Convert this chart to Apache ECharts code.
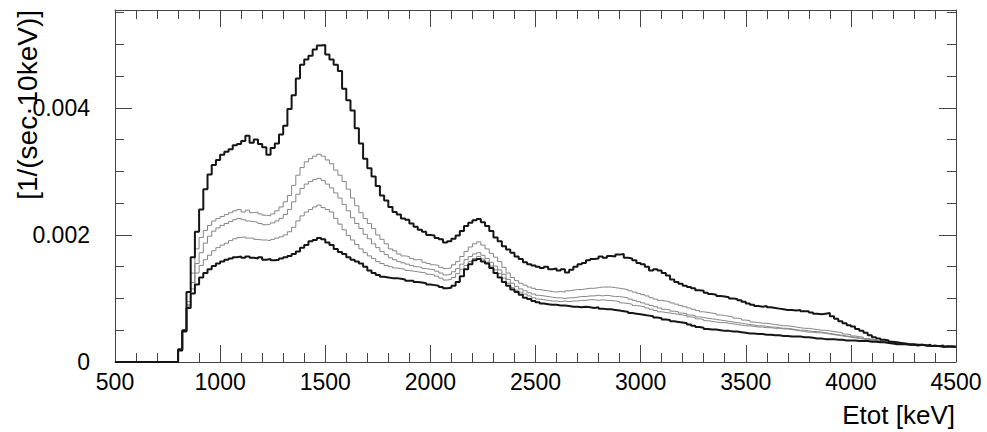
<!DOCTYPE html>
<html><head><meta charset="utf-8">
<script src="https://cdn.jsdelivr.net/npm/echarts@6/dist/echarts.min.js"></script>
<style>html,body{margin:0;padding:0;background:#fff}#c{width:987px;height:432px}</style>
</head><body><div id="c"></div>
<script>
// Histogram bins: 20 keV wide, first non-empty bin starts at 800 keV. Values in units of 1e-5 [1/(sec*10keV)].
const xMin = 500, xMax = 4500, binStart = 800, binWidth = 20;
const yMax = 0.00554;
const unit = 1e-5;
const yTickLabels = ['0', '0.002', '0.004'];
const xTickLabels = ['500', '1000', '1500', '2000', '2500', '3000', '3500', '4000', '4500'];
const xTitle = 'Etot [keV]';
const yTitle = '[1/(sec\u00b710keV)]';

// top thick black curve
const seriesTop = [
 20, 50, 110, 165, 205, 240, 272, 295, 310, 318,
 326, 331, 335, 341, 343, 348, 356, 345, 350, 343,
 338, 326, 337, 344, 358, 372, 398, 420, 446, 468,
 476, 482, 492, 498, 499, 484, 476, 468, 458, 430,
 412, 396, 368, 344, 320, 305, 292, 277, 262, 254,
 244, 236, 232, 226, 224, 218, 213, 208, 205, 200,
 199, 195, 193, 188, 190, 194, 199, 206, 214, 219,
 223, 225, 220, 214, 206, 196, 190, 182, 177, 172,
 166, 162, 157, 154, 152, 150, 148, 150, 146, 147,
 144, 146, 141, 145, 150, 154, 156, 160, 162, 163,
 166, 164, 167, 166, 169, 170, 164, 163, 160, 156,
 154, 150, 144, 146, 144, 140, 136, 130, 126, 123,
 120, 118, 116, 113, 112, 109, 107, 106, 104, 103,
 102, 100, 99, 97, 95, 92, 90, 88, 87, 88,
 86, 85, 84, 83, 82, 82, 81, 82, 80, 80,
 78, 76, 75, 76, 77, 72, 68, 64, 61, 58,
 56, 52, 49, 46, 42, 39, 37, 35, 34, 32,
 31, 30, 29, 28, 28, 27, 27, 26, 27, 25,
 25, 26, 24, 25, 24
];
// upper gray curve
const seriesGray1 = [
 19, 49, 95, 140, 178, 196, 207, 215, 222, 226,
 229, 232, 235, 238, 240, 236, 239, 235, 236, 233,
 231, 230, 233, 238, 244, 252, 262, 278, 294, 306,
 315, 320, 324, 327, 324, 318, 312, 302, 294, 284,
 272, 258, 246, 235, 226, 218, 210, 200, 193, 186,
 178, 175, 170, 167, 166, 163, 161, 161, 157, 155,
 153, 152, 149, 147, 148, 153, 158, 166, 174, 181,
 186, 189, 184, 178, 171, 165, 158, 149, 140, 133,
 128, 124, 121, 118, 116, 114, 113, 112, 111, 110,
 111, 110, 112, 113, 114, 114, 115, 116, 116, 117,
 118, 118, 118, 117, 116, 115, 114, 112, 110, 108,
 106, 104, 101, 99, 97, 96, 95, 93, 91, 89,
 87, 85, 83, 81, 79, 78, 77, 76, 74, 73,
 72, 71, 69, 68, 66, 65, 63, 62, 61, 61,
 60, 59, 58, 57, 57, 56, 55, 54, 53, 53,
 52, 51, 50, 50, 49, 48, 47, 46, 44, 43,
 41, 40, 39, 37, 36, 35, 33, 32, 31, 30,
 29, 29, 28, 28, 27, 27, 26, 26, 26, 25,
 25, 25, 24, 24, 24
];
// middle gray curve
const seriesGray2 = [
 19, 48, 90, 125, 155, 172, 187, 198, 206, 211,
 215, 218, 221, 224, 226, 224, 222, 221, 220, 218,
 216, 217, 219, 222, 226, 232, 240, 252, 264, 273,
 280, 284, 287, 289, 286, 280, 274, 266, 258, 248,
 238, 227, 218, 210, 201, 194, 186, 180, 174, 169,
 164, 161, 158, 156, 154, 152, 150, 149, 147, 146,
 145, 143, 140, 137, 138, 142, 147, 154, 161, 166,
 170, 172, 168, 163, 157, 151, 145, 138, 130, 124,
 119, 115, 112, 109, 107, 105, 104, 103, 102, 101,
 101, 100, 101, 101, 102, 103, 103, 104, 104, 105,
 104, 105, 104, 103, 103, 102, 101, 99, 97, 95,
 93, 91, 89, 87, 85, 83, 82, 80, 79, 77,
 76, 74, 73, 71, 70, 69, 68, 67, 66, 65,
 64, 63, 62, 61, 60, 59, 58, 57, 57, 56,
 55, 55, 54, 53, 53, 52, 51, 50, 50, 49,
 48, 48, 47, 46, 45, 44, 43, 42, 41, 40,
 39, 38, 37, 36, 35, 34, 33, 32, 31, 30,
 29, 28, 28, 27, 27, 26, 26, 26, 25, 25,
 25, 24, 24, 24, 24
];
// lower gray curve
const seriesGray3 = [
 19, 48, 88, 115, 140, 152, 161, 168, 175, 180,
 184, 187, 191, 194, 196, 197, 195, 195, 193, 192,
 192, 191, 193, 195, 197, 200, 205, 212, 222, 230,
 236, 240, 244, 247, 243, 240, 236, 226, 217, 208,
 199, 192, 185, 178, 172, 167, 163, 158, 155, 152,
 150, 148, 147, 146, 144, 143, 142, 141, 140, 138,
 137, 135, 132, 129, 130, 133, 139, 146, 152, 158,
 163, 166, 162, 157, 151, 145, 139, 132, 124, 117,
 113, 110, 107, 104, 101, 99, 98, 97, 96, 96,
 95, 96, 95, 96, 96, 97, 97, 98, 98, 97,
 98, 97, 97, 96, 95, 93, 92, 91, 89, 88,
 87, 85, 83, 81, 79, 78, 77, 76, 75, 74,
 73, 71, 70, 68, 67, 65, 64, 63, 62, 62,
 61, 60, 59, 58, 57, 57, 56, 55, 55, 54,
 54, 53, 53, 52, 52, 51, 50, 49, 48, 47,
 47, 46, 46, 45, 44, 43, 42, 41, 40, 39,
 38, 37, 36, 35, 34, 33, 32, 32, 31, 30,
 29, 28, 28, 27, 27, 26, 26, 26, 25, 25,
 24, 24, 24, 24, 24
];
// bottom thick black curve
const seriesBottom = [
 18, 48, 85, 108, 122, 133, 140, 146, 151, 155,
 158, 161, 163, 165, 166, 164, 166, 164, 163, 165,
 161, 162, 160, 161, 163, 165, 167, 170, 174, 180,
 184, 190, 192, 195, 193, 188, 184, 178, 173, 170,
 165, 161, 158, 155, 150, 144, 140, 137, 134, 133,
 132, 132, 131, 130, 128, 128, 126, 125, 124, 122,
 121, 120, 118, 116, 117, 120, 126, 135, 146, 154,
 160, 162, 158, 155, 148, 140, 133, 126, 120, 114,
 110, 106, 101, 99, 96, 94, 92, 91, 90, 90,
 89, 89, 88, 87, 87, 86, 87, 86, 85, 86,
 84, 83, 83, 82, 81, 80, 79, 77, 76, 75,
 74, 73, 72, 70, 69, 67, 66, 64, 63, 62,
 61, 59, 57, 55, 54, 52, 51, 51, 50, 49,
 49, 48, 48, 47, 46, 45, 45, 44, 44, 43,
 43, 42, 42, 41, 41, 40, 40, 40, 39, 39,
 38, 37, 37, 36, 36, 36, 35, 35, 34, 34,
 34, 33, 33, 33, 32, 32, 31, 31, 30, 29,
 28, 28, 28, 27, 27, 26, 27, 26, 25, 26,
 25, 24, 25, 24, 24
];

function toSteps(vals) {
  const pts = [[xMin, 0]];
  vals.forEach((v, i) => pts.push([binStart + i * binWidth, v * unit]));
  pts.push([binStart + vals.length * binWidth, vals[vals.length - 1] * unit]);
  return pts;
}

const FONT = 'Liberation Sans, Arial, Helvetica, sans-serif';
const frameColor = '#444';

function histSeries(vals, color, width) {
  return {
    type: 'line', step: 'end', data: toSteps(vals), showSymbol: false, symbol: 'none',
    xAxisIndex: 0, yAxisIndex: 0,
    lineStyle: { color: color, width: width },
    silent: true, animation: false, z: width > 1 ? 3 : 2
  };
}

const chart = echarts.init(document.getElementById('c'), null, { renderer: 'svg' });

function axisDef(kind, position, interval, tickLen, showLine, label) {
  const max = kind === 'x' ? xMax : yMax;
  const min = kind === 'x' ? xMin : 0;
  return {
    type: 'value', min: min, max: max, interval: interval, position: position,
    axisLine: { show: showLine, onZero: false, lineStyle: { color: frameColor, width: 1 } },
    axisTick: { show: true, inside: true, length: tickLen, lineStyle: { color: frameColor, width: 1 } },
    axisLabel: label || { show: false },
    splitLine: { show: false }
  };
}

chart.setOption({
  animation: false,
  backgroundColor: '#fff',
  grid: { left: 115, right: 31, top: 10, bottom: 70, containLabel: false },
  xAxis: [
    axisDef('x', 'bottom', 500, 17, true, {
      show: true, margin: 8, color: '#000', fontSize: 23, fontFamily: FONT,
      formatter: function (v) { const i = Math.round((v - xMin) / 500); return xTickLabels[i] || ''; }
    }),
    axisDef('x', 'bottom', 100, 9, false),
    axisDef('x', 'top', 500, 17, true),
    axisDef('x', 'top', 100, 9, false)
  ],
  yAxis: [
    axisDef('y', 'left', 0.002, 17, true, {
      show: true, margin: 25, color: '#000', fontSize: 23, fontFamily: FONT, showMaxLabel: false,
      formatter: function (v) { const i = Math.round(v / 0.002); return Math.abs(v - i * 0.002) < 1e-9 ? (yTickLabels[i] || '') : ''; }
    }),
    axisDef('y', 'left', 0.0005, 9, false),
    axisDef('y', 'right', 0.002, 17, true),
    axisDef('y', 'right', 0.0005, 9, false)
  ],
  series: [
    histSeries(seriesGray3, '#858585', 1),
    histSeries(seriesGray2, '#858585', 1),
    histSeries(seriesGray1, '#858585', 1),
    histSeries(seriesBottom, '#151515', 2),
    histSeries(seriesTop, '#151515', 2)
  ],
  graphic: [
    { type: 'text', x: 955, y: 415, style: { text: xTitle, fill: '#000', font: '26px ' + FONT, textAlign: 'right', textVerticalAlign: 'middle' } },
    { type: 'text', x: 27, y: 10, rotation: Math.PI / 2, style: { text: yTitle, fill: '#000', font: '28px ' + FONT, textAlign: 'right', textVerticalAlign: 'middle' } }
  ]
});
</script>
</body></html>
